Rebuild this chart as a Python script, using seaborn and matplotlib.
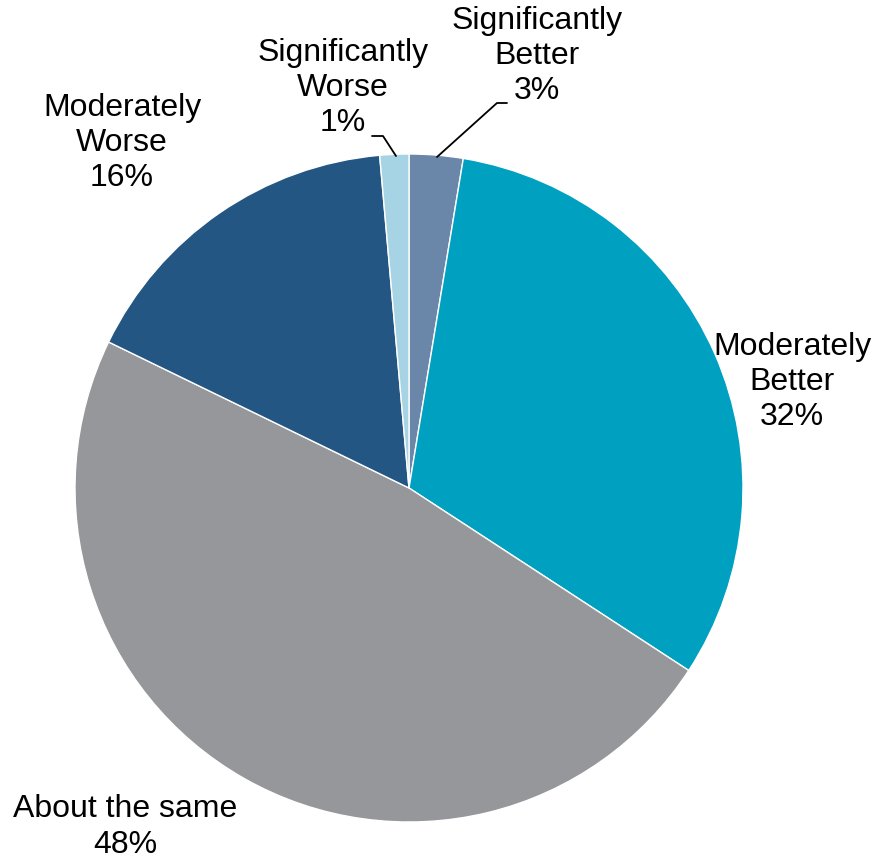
import matplotlib
matplotlib.use("Agg")
import matplotlib.pyplot as plt
import seaborn as sns

categories = ["Significantly\nBetter", "Moderately\nBetter", "About the same",
              "Moderately\nWorse", "Significantly\nWorse"]
values = [2.6, 31.6, 48.0, 16.4, 1.4]
colors = ["#6a87aa", "#00a0c0", "#96979b", "#235683", "#a6d4e4"]

sns.set_theme(style="white")
plt.rcParams['font.family'] = ['Liberation Sans', 'DejaVu Sans']

W, H = 873, 859
CX, CY, R = 409, 488, 334

def px(x, y):
    return ((x - CX) / R, (CY - y) / R)

fig = plt.figure(figsize=(W / 100, H / 100), dpi=100)
ax = fig.add_axes([0, 0, 1, 1])
ax.pie(values, colors=colors, startangle=90, counterclock=False, radius=1,
       wedgeprops=dict(edgecolor="white", linewidth=1))
ax.set_xlim(-CX / R, (W - CX) / R)
ax.set_ylim(-(H - CY) / R, CY / R)
ax.axis("off")

label_pos = [(537, 56), (792, 382), (125, 827), (122, 143), (343, 88)]
for cat, v, (lx, ly) in zip(categories, values, label_pos):
    x, y = px(lx, ly)
    ax.text(x, y, f"{cat}\n{round(v):d}%", ha="center", va="center",
            multialignment="center", fontsize=23, linespacing=1.22, color="black")

# leader lines
for pts in ([(437, 157), (497, 103), (507, 103)], [(396, 156), (383, 136), (372, 136)]):
    xs, ys = zip(*[px(a, b) for a, b in pts])
    ax.plot(xs, ys, color="black", lw=1.3)

fig.savefig("out.png", dpi=100)
